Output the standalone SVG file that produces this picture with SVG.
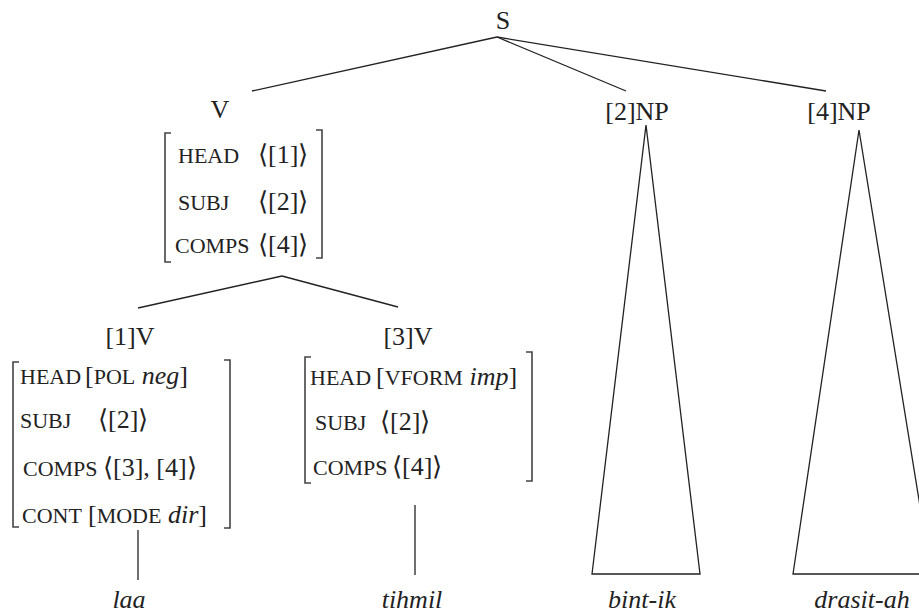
<svg xmlns="http://www.w3.org/2000/svg" width="919" height="613" viewBox="0 0 919 613">
<style>
  text { font-family: "Liberation Serif", "Times New Roman", serif; fill: #222; }
  .lbl { font-size: 26px; }
  .feat { font-size: 22px; }
  .val { font-size: 26px; }
  .it { font-style: italic; }
  .ang { font-family: "DejaVu Sans", sans-serif; font-weight: 200; }
  .word { font-size: 26px; font-style: italic; text-anchor: middle; }
  .br { fill: none; stroke: #444; stroke-width: 1.6; }
  .edge { fill: none; stroke: #222; stroke-width: 1.3; }
  .leaf { fill: none; stroke: #333; stroke-width: 1.4; }
</style>
<rect width="919" height="613" fill="#fff"/>

<g id="connectors">
  <line class="edge" x1="497" y1="37" x2="252" y2="91"/>
  <line class="edge" x1="497" y1="37" x2="626" y2="91"/>
  <line class="edge" x1="497" y1="37" x2="826" y2="91"/>
  <line class="edge" x1="282" y1="276" x2="138" y2="308"/>
  <line class="edge" x1="282" y1="276" x2="398" y2="307"/>
  <line class="leaf" x1="138" y1="530" x2="138" y2="580"/>
  <line class="leaf" x1="415" y1="505" x2="415" y2="575" stroke="#777"/>
</g>

<g id="node-S">
  <text class="lbl" x="503" y="29" text-anchor="middle">S</text>
</g>

<g id="node-V">
  <text class="lbl" x="220" y="118" text-anchor="middle">V</text>
  <path class="br" d="M171,133 H165 V262 H171"/>
  <path class="br" d="M316,130 H322 V258 H316"/>
  <text class="feat" x="178" y="163">HEAD</text>
  <text class="val" x="258" y="163"><tspan class="ang">⟨</tspan>[1]<tspan class="ang">⟩</tspan></text>
  <text class="feat" x="178" y="210">SUBJ</text>
  <text class="val" x="258" y="210"><tspan class="ang">⟨</tspan>[2]<tspan class="ang">⟩</tspan></text>
  <text class="feat" x="175" y="253">COMPS</text>
  <text class="val" x="258" y="253"><tspan class="ang">⟨</tspan>[4]<tspan class="ang">⟩</tspan></text>
</g>

<g id="node-1V">
  <text class="lbl" x="130" y="345" text-anchor="middle">[1]V</text>
  <path class="br" d="M19,362 H13 V527 H19"/>
  <path class="br" d="M224,360 H230 V528 H224"/>
  <text class="feat" x="20" y="384">HEAD</text>
  <text class="val" x="85" y="384">[<tspan class="feat">POL</tspan> <tspan class="it">neg</tspan>]</text>
  <text class="feat" x="20" y="428">SUBJ</text>
  <text class="val" x="98" y="428"><tspan class="ang">⟨</tspan>[2]<tspan class="ang">⟩</tspan></text>
  <text class="feat" x="23" y="476">COMPS</text>
  <text class="val" x="103" y="476"><tspan class="ang">⟨</tspan>[3], [4]<tspan class="ang">⟩</tspan></text>
  <text class="feat" x="22" y="523">CONT</text>
  <text class="val" x="88" y="523">[<tspan class="feat">MODE</tspan> <tspan class="it">dir</tspan>]</text>
</g>

<g id="node-3V">
  <text class="lbl" x="408" y="345" text-anchor="middle">[3]V</text>
  <path class="br" d="M311,357 H305 V483 H311"/>
  <path class="br" d="M526,352 H532 V481 H526"/>
  <text class="feat" x="310" y="385">HEAD</text>
  <text class="val" x="376" y="385">[<tspan class="feat">VFORM</tspan> <tspan class="it">imp</tspan>]</text>
  <text class="feat" x="315" y="430">SUBJ</text>
  <text class="val" x="380" y="430"><tspan class="ang">⟨</tspan>[2]<tspan class="ang">⟩</tspan></text>
  <text class="feat" x="313" y="475">COMPS</text>
  <text class="val" x="392" y="475"><tspan class="ang">⟨</tspan>[4]<tspan class="ang">⟩</tspan></text>
</g>

<g id="node-2NP">
  <text class="lbl" x="637" y="120" text-anchor="middle">[2]NP</text>
  <path class="edge" d="M646,125 L592,574 H700 Z"/>
</g>

<g id="node-4NP">
  <text class="lbl" x="839" y="120" text-anchor="middle">[4]NP</text>
  <path class="edge" d="M859,130 L793,574 H919 M859,130 L931,574"/>
</g>

<g id="node-laa"><text class="word" x="129" y="608">laa</text></g>
<g id="node-tihmil"><text class="word" x="412" y="608">tihmil</text></g>
<g id="node-bintik"><text class="word" x="642" y="608">bint-ik</text></g>
<g id="node-drasitah"><text class="word" x="862" y="608">drasit-ah</text></g>
</svg>
